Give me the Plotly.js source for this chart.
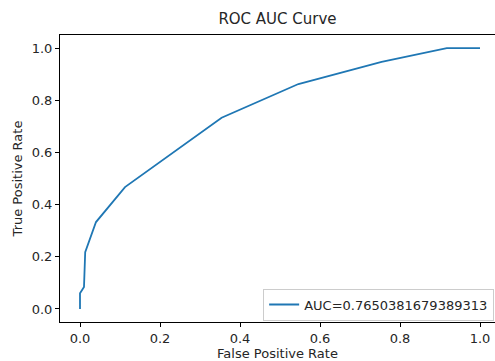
<!DOCTYPE html>
<html>
<head>
<meta charset="utf-8">
<script src="https://cdn.plot.ly/plotly-3.0.1.min.js"></script>
<style>html,body{margin:0;padding:0;background:#fff;}#chart{width:495px;height:361px;}</style>
</head>
<body>
<div id="chart"></div>
<script>
const fpr = [0.0, 0.0, 0.0, 0.01, 0.013, 0.04, 0.1125, 0.354, 0.546, 0.754, 0.917, 1.0];
const tpr = [0.0, 0.06, 0.06, 0.084, 0.218, 0.333, 0.467, 0.733, 0.862, 0.947, 1.0, 1.0];
const aucLabel = "AUC=0.7650381679389313";
const tickVals = [0.0, 0.2, 0.4, 0.6, 0.8, 1.0];
const tickText = ["0.0", "0.2", "0.4", "0.6", "0.8", "1.0"];

const font = {family: "DejaVu Sans", size: 13, color: "#262626"};

const data = [{
  x: fpr, y: tpr, type: "scatter", mode: "lines", name: aucLabel,
  line: {color: "#1f77b4", width: 1.8}
}];

const layout = {
  width: 495, height: 361,
  margin: {l: 60, r: 0, t: 35, b: 39},
  paper_bgcolor: "#fff", plot_bgcolor: "#fff",
  font: font,
  showlegend: true,
  title: {text: "ROC AUC Curve", font: {family: "DejaVu Sans", size: 15, color: "#262626"}, x: 0.5, xref: "paper", xanchor: "center", y: 1, yref: "container", yanchor: "top", pad: {t: 13}},
  xaxis: {
    range: [-0.05, 1.0375], tickvals: tickVals, ticktext: tickText,
    showgrid: false, zeroline: false, showline: true, linecolor: "#000", linewidth: 1, mirror: true,
    ticks: "outside", ticklen: 4, tickcolor: "#000", tickwidth: 1,
    tickfont: font,
    title: {text: "False Positive Rate", font: font, standoff: 4}
  },
  yaxis: {
    range: [-0.05, 1.05], tickvals: tickVals, ticktext: tickText,
    showgrid: false, zeroline: false, showline: true, linecolor: "#000", linewidth: 1,
    ticks: "outside", ticklen: 4, tickcolor: "#000", tickwidth: 1,
    tickfont: font,
    title: {text: "True Positive Rate", font: font, standoff: 6}
  },
  legend: {
    x: 0.467, xanchor: "left", y: 0.005, yanchor: "bottom",
    bgcolor: "#fff", bordercolor: "#cccccc", borderwidth: 1,
    font: font, itemwidth: 30
  }
};

Plotly.newPlot("chart", data, layout, {staticPlot: true});
</script>
</body>
</html>
